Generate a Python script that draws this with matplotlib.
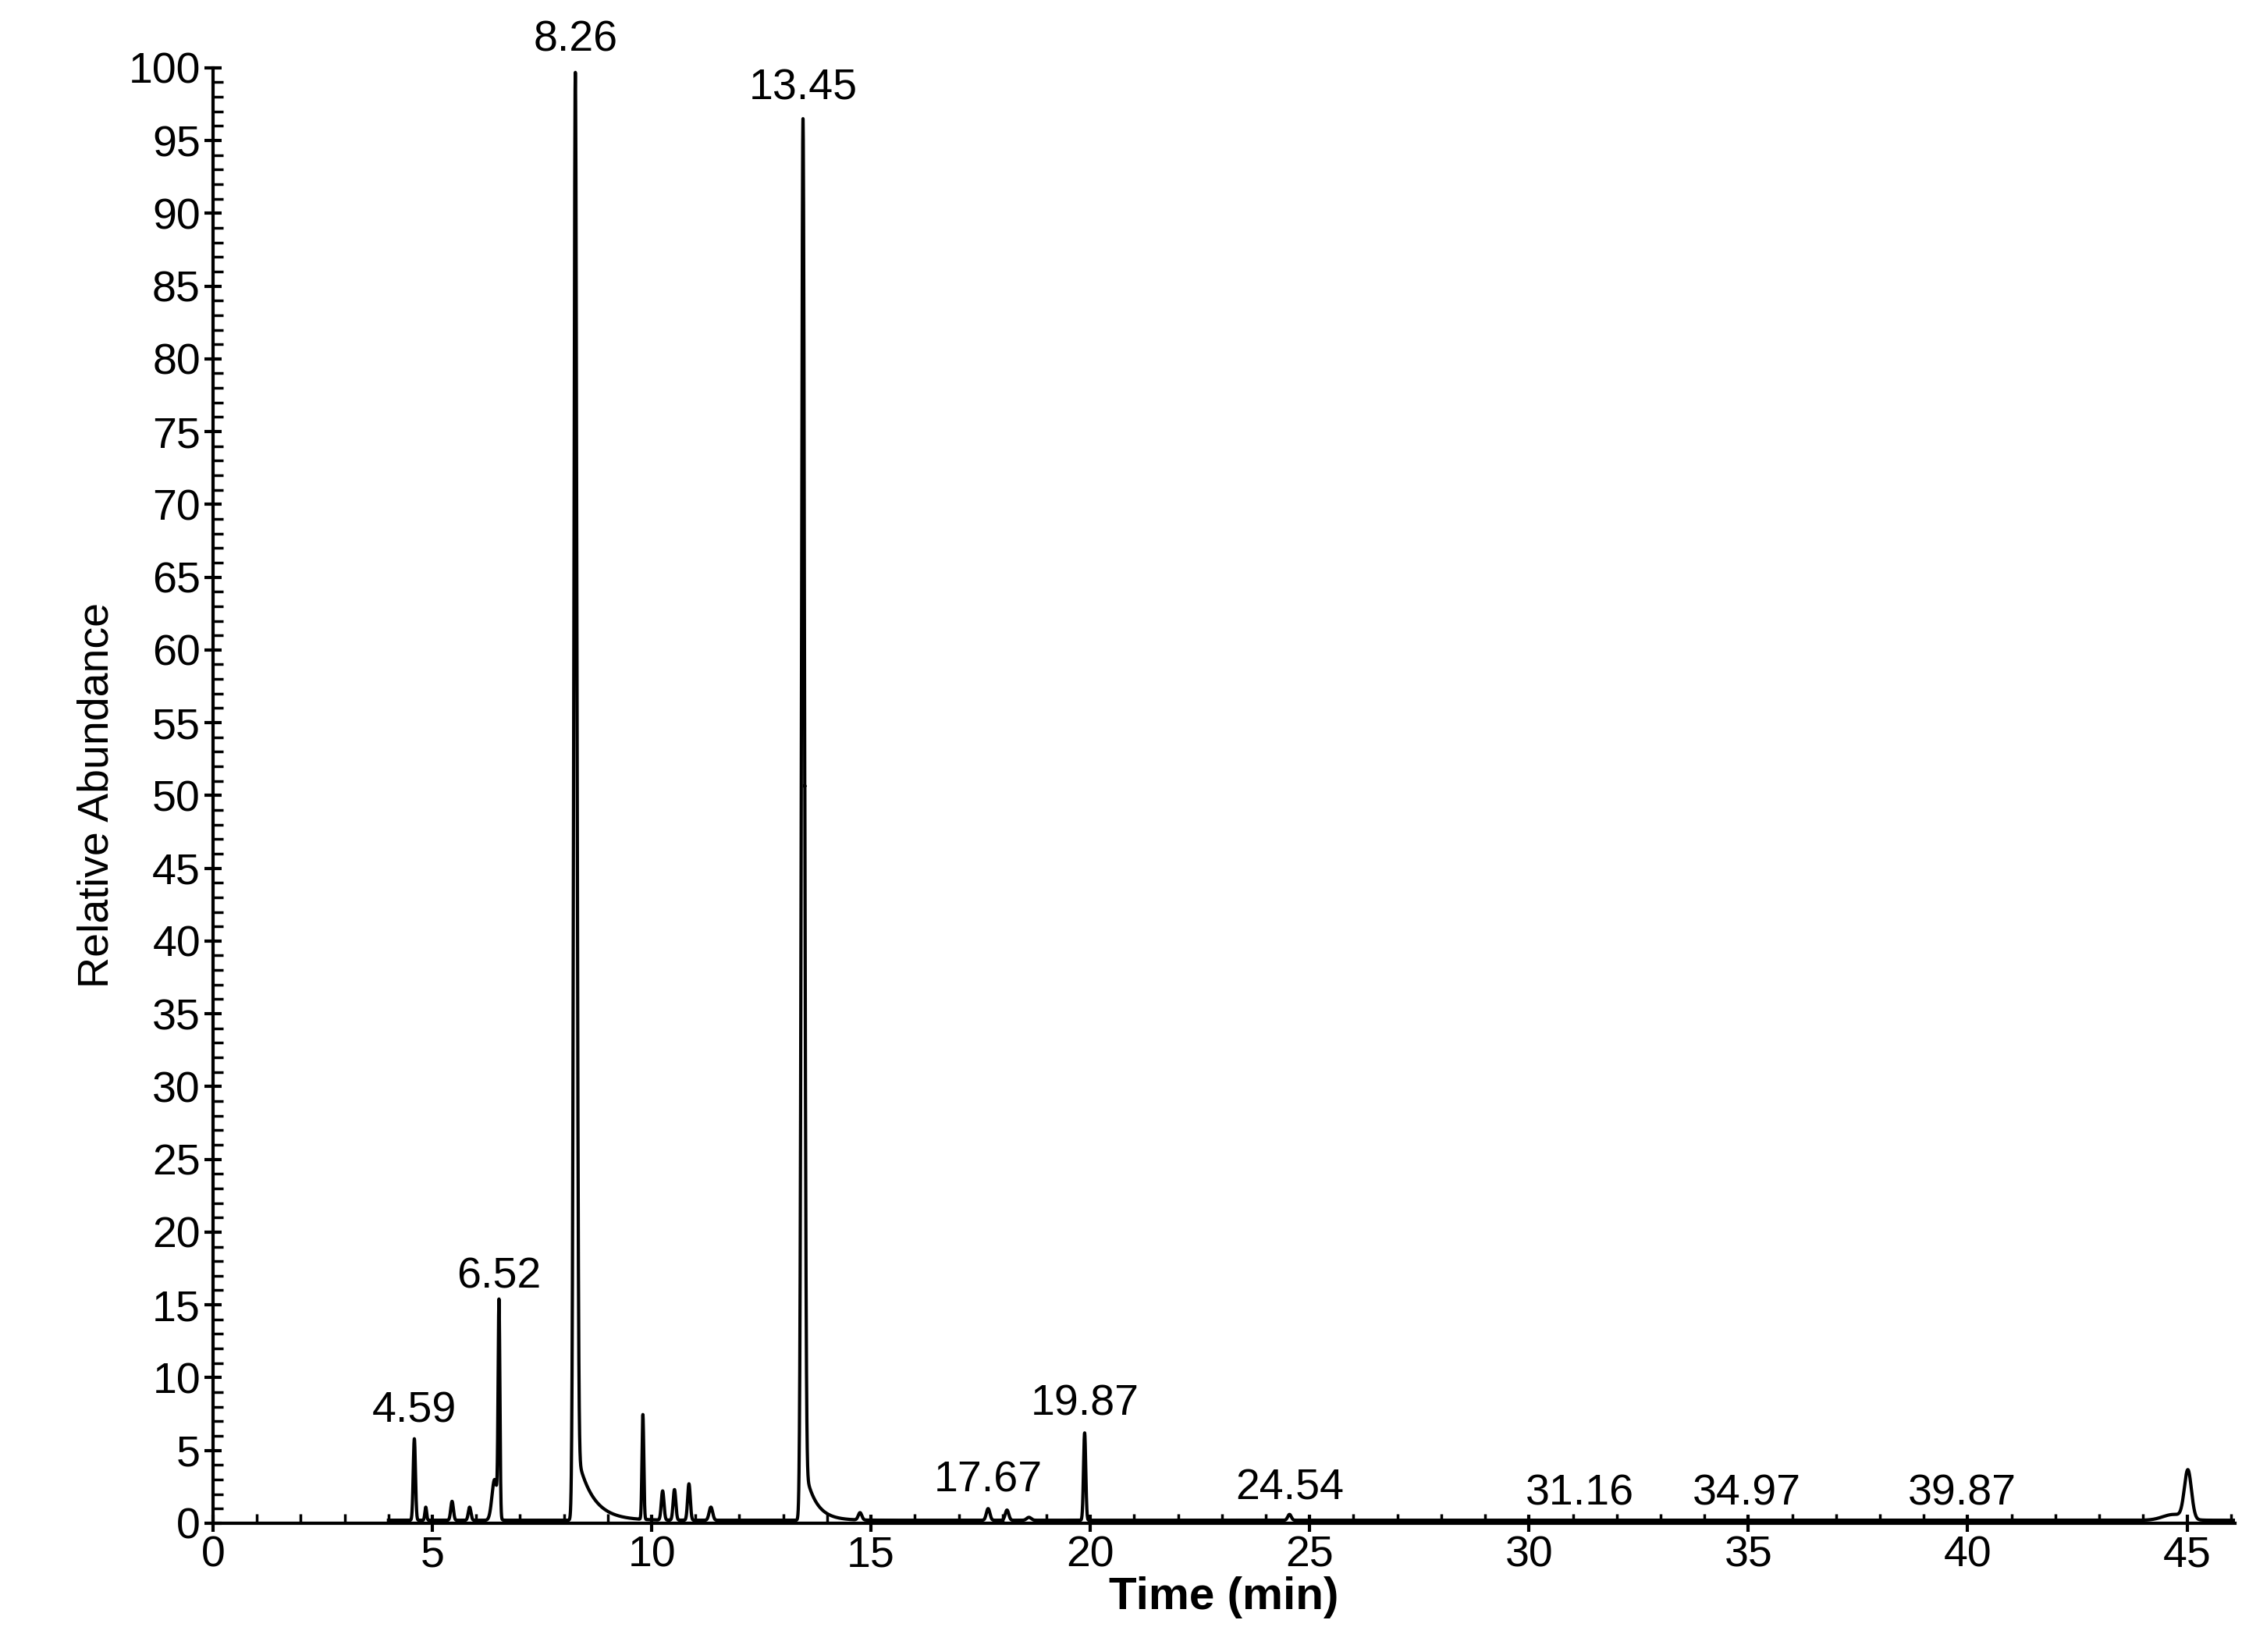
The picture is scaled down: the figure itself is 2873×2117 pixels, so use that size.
import numpy as np
import matplotlib.pyplot as plt
from matplotlib.ticker import MultipleLocator

plt.rcParams['font.family'] = ['Liberation Sans', 'DejaVu Sans']

# peak table: retention time, height, width (sigma, min)
peak_times = [4.59, 4.85, 5.45, 5.85, 6.42, 6.52, 8.26, 9.80, 10.25, 10.52,
              10.85, 11.35, 13.45, 14.75, 17.67, 18.10, 18.60, 19.87,
              24.54, 44.70, 45.02]
peak_heights = [5.6, 0.9, 1.3, 0.9, 2.8, 14.5, 99.5, 7.2, 2.0, 2.1,
                2.5, 0.9, 96.3, 0.5, 0.8, 0.7, 0.2, 6.0,
                0.4, 0.4, 3.3]
peak_widths = [0.025, 0.02, 0.03, 0.03, 0.06, 0.02, 0.035, 0.02, 0.03, 0.03,
               0.03, 0.04, 0.035, 0.04, 0.04, 0.04, 0.05, 0.025,
               0.04, 0.25, 0.08]
# tailing of the two main peaks: start time, amplitude, decay (min)
tail_times = [8.30, 13.49]
tail_heights = [4.5, 3.5]
tail_decay = [0.35, 0.25]
baseline = 0.2

label_times = ["4.59", "6.52", "8.26", "13.45", "17.67", "19.87", "24.54",
               "31.16", "34.97", "39.87"]
label_heights = [5.8, 15.0, 100.0, 96.7, 1.0, 6.3, 0.5, 0.1, 0.1, 0.1]

t = np.linspace(4.0, 46.1, 20000)
y = np.full_like(t, baseline)
for tr, h, w in zip(peak_times, peak_heights, peak_widths):
    y += h * np.exp(-0.5 * ((t - tr) / w) ** 2)
for tr, h, d in zip(tail_times, tail_heights, tail_decay):
    y += np.where(t > tr, h * np.exp(-np.clip(t - tr, 0, None) / d), 0)

fig = plt.figure(figsize=(28.73, 21.17), dpi=100)
ax = fig.add_axes([0.095, 0.078, 0.902, 0.881])
ax.plot(t, y, color='black', lw=3)

for lab, h in zip(label_times, label_heights):
    ax.text(float(lab), h + 0.5, lab, ha='center', va='bottom', fontsize=40)

ax.set_xlim(0, 46.1)
ax.set_ylim(0, 100)
ax.xaxis.set_major_locator(MultipleLocator(5))
ax.xaxis.set_minor_locator(MultipleLocator(1))
ax.yaxis.set_major_locator(MultipleLocator(5))
ax.yaxis.set_minor_locator(MultipleLocator(1))
ax.tick_params(axis='both', which='major', labelsize=40, length=16, width=3, direction='inout')
ax.tick_params(axis='both', which='minor', length=9, width=2.5, direction='in')
for side in ['top', 'right']:
    ax.spines[side].set_visible(False)
for side in ['left', 'bottom']:
    ax.spines[side].set_linewidth(3)
ax.set_xlabel('Time (min)', fontsize=42, fontweight='bold', labelpad=0)
ax.set_ylabel('Relative Abundance', fontsize=40, labelpad=10)

fig.savefig('out.png', dpi=100)
